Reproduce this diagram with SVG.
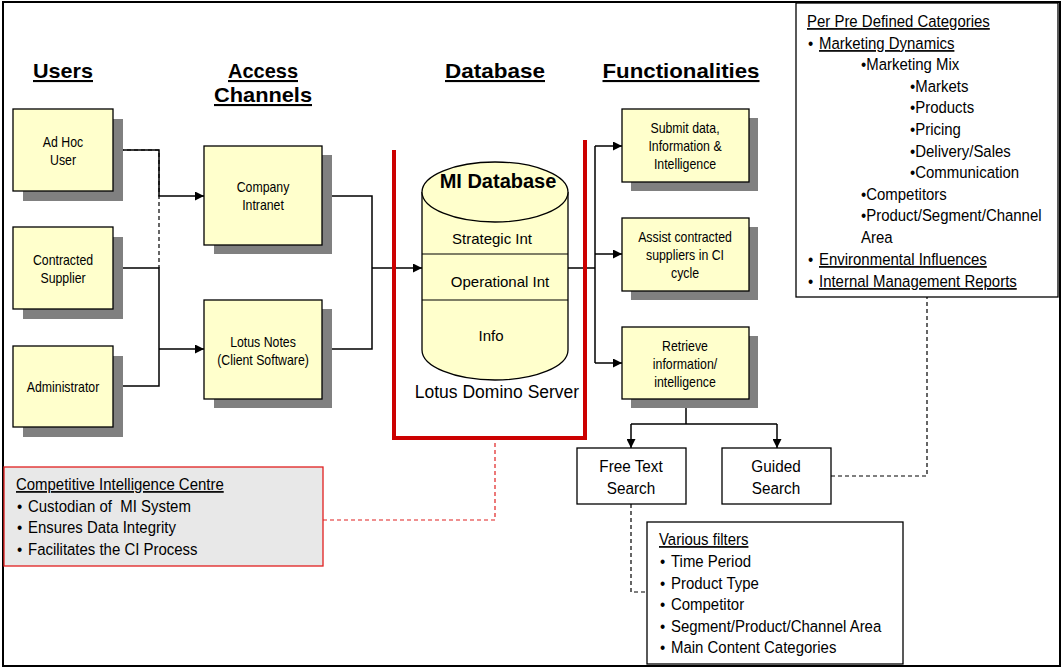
<svg xmlns="http://www.w3.org/2000/svg" width="1062" height="668" viewBox="0 0 1062 668">
<style>
.box{fill:#FFFFCC;stroke:#000;stroke-width:1.3}
.sh{fill:#808080}
.t{font-family:"Liberation Sans",Arial,sans-serif;fill:#000}
.n{font-size:14px;text-anchor:middle}
.hd{font-family:"Liberation Sans",Arial,sans-serif;font-weight:bold;font-size:21px;text-anchor:middle;text-decoration:underline}
.db{font-family:"Liberation Sans",Arial,sans-serif;fill:#000;text-anchor:middle}
.l{font-size:17px}
.u{text-decoration:underline}
.c{fill:none;stroke:#000;stroke-width:1.5}
.d{fill:none;stroke:#000;stroke-width:1.2;stroke-dasharray:4,3}
.rd{fill:none;stroke:#E02020;stroke-width:1.2;stroke-dasharray:4,3}
.wb{fill:#fff;stroke:#000;stroke-width:1.3}
</style>
<defs>
<marker id="ah" viewBox="0 0 10 10" refX="10" refY="5" markerWidth="10" markerHeight="9" markerUnits="userSpaceOnUse" orient="auto">
<path d="M0,0 L10,5 L0,10 Z" fill="#000"/>
</marker>
</defs>
<rect x="3" y="2" width="1057" height="664" fill="#fff" stroke="#000" stroke-width="2"/>

<g id="headers">
<text class="hd" x="63" y="78" textLength="60" lengthAdjust="spacingAndGlyphs">Users</text>
<text class="hd" x="263" y="78" textLength="70" lengthAdjust="spacingAndGlyphs">Access</text>
<text class="hd" x="263" y="102" textLength="98" lengthAdjust="spacingAndGlyphs">Channels</text>
<text class="hd" x="495" y="78" textLength="100" lengthAdjust="spacingAndGlyphs">Database</text>
<text class="hd" x="681" y="78" textLength="157" lengthAdjust="spacingAndGlyphs">Functionalities</text>
</g>

<g id="connectors">
<path class="c" d="M113,150 H159 V196 H204" marker-end="url(#ah)"/>
<path class="d" d="M113,150 H159 V268"/>
<path class="c" d="M113,268 H159 V386 H113"/>
<path class="c" d="M159,349 H204" marker-end="url(#ah)"/>
<path class="c" d="M322,196 H372 V349 H322"/>
<path class="c" d="M372,268 H422" marker-end="url(#ah)"/>
<path class="c" d="M568,268 H595"/>
<path class="c" d="M595,146 V363"/>
<path class="c" d="M595,146 H622" marker-end="url(#ah)"/>
<path class="c" d="M595,254 H622" marker-end="url(#ah)"/>
<path class="c" d="M595,363 H622" marker-end="url(#ah)"/>
<path class="c" d="M686,399 V424"/>
<path class="c" d="M631,424 H777"/>
<path class="c" d="M631,424 V448" marker-end="url(#ah)"/>
<path class="c" d="M777,424 V448" marker-end="url(#ah)"/>
<path class="d" d="M831,476 H927 V297"/>
<path class="d" d="M631,504 V592 H647"/>
<path class="rd" d="M323,520 H495 V440"/>
</g>

<g id="adhoc">
<rect class="sh" x="23" y="119" width="100" height="82"/>
<rect class="box" x="13" y="109" width="100" height="82"/>
<text class="t n" transform="translate(63,147) scale(0.88,1)">Ad Hoc</text>
<text class="t n" transform="translate(63,165) scale(0.88,1)">User</text>
</g>
<g id="contracted">
<rect class="sh" x="23" y="237" width="100" height="82"/>
<rect class="box" x="13" y="227" width="100" height="82"/>
<text class="t n" transform="translate(63,265) scale(0.88,1)">Contracted</text>
<text class="t n" transform="translate(63,283) scale(0.88,1)">Supplier</text>
</g>
<g id="administrator">
<rect class="sh" x="23" y="356" width="100" height="81"/>
<rect class="box" x="13" y="346" width="100" height="81"/>
<text class="t n" transform="translate(63,392) scale(0.88,1)">Administrator</text>
</g>
<g id="intranet">
<rect class="sh" x="214" y="155" width="118" height="99"/>
<rect class="box" x="204" y="146" width="118" height="99"/>
<text class="t n" transform="translate(263,192) scale(0.88,1)">Company</text>
<text class="t n" transform="translate(263,210) scale(0.88,1)">Intranet</text>
</g>
<g id="lotusnotes">
<rect class="sh" x="214" y="309" width="118" height="99"/>
<rect class="box" x="204" y="300" width="118" height="99"/>
<text class="t n" transform="translate(263,347) scale(0.88,1)">Lotus Notes</text>
<text class="t n" transform="translate(263,365) scale(0.88,1)">(Client Software)</text>
</g>

<g id="database">
<path d="M394,150 V438 H585 V140" fill="none" stroke="#CC0000" stroke-width="4"/>
<path class="box" d="M422,192 V350 A73,30 0 0 0 568,350 V192"/>
<ellipse class="box" cx="495" cy="192" rx="73" ry="30"/>
<line x1="422" y1="254" x2="568" y2="254" stroke="#000" stroke-width="1.2"/>
<line x1="422" y1="300" x2="568" y2="300" stroke="#000" stroke-width="1.2"/>
<text class="db" x="498" y="188" font-size="20" font-weight="bold">MI Database</text>
<text class="db" x="492" y="244" font-size="15">Strategic Int</text>
<text class="db" x="500" y="287" font-size="15">Operational Int</text>
<text class="db" x="491" y="341" font-size="15">Info</text>
<text class="db" x="497" y="398" font-size="17.5">Lotus Domino Server</text>
</g>

<g id="submit">
<rect class="sh" x="631" y="118" width="127" height="73"/>
<rect class="box" x="622" y="109" width="127" height="73"/>
<text class="t n" transform="translate(685,133) scale(0.88,1)">Submit data,</text>
<text class="t n" transform="translate(685,151) scale(0.88,1)">Information &amp;</text>
<text class="t n" transform="translate(685,169) scale(0.88,1)">Intelligence</text>
</g>
<g id="assist">
<rect class="sh" x="631" y="227" width="127" height="73"/>
<rect class="box" x="622" y="218" width="127" height="73"/>
<text class="t n" transform="translate(685,242) scale(0.88,1)">Assist contracted</text>
<text class="t n" transform="translate(685,260) scale(0.88,1)">suppliers in CI</text>
<text class="t n" transform="translate(685,278) scale(0.88,1)">cycle</text>
</g>
<g id="retrieve">
<rect class="sh" x="631" y="336" width="127" height="72"/>
<rect class="box" x="622" y="327" width="127" height="72"/>
<text class="t n" transform="translate(685,351) scale(0.88,1)">Retrieve</text>
<text class="t n" transform="translate(685,369) scale(0.88,1)">information/</text>
<text class="t n" transform="translate(685,387) scale(0.88,1)">intelligence</text>
</g>

<g id="freetext">
<rect class="wb" x="577" y="448" width="109" height="56"/>
<text class="t l" text-anchor="middle" transform="translate(631,472) scale(0.9,1)">Free Text</text>
<text class="t l" text-anchor="middle" transform="translate(631,494) scale(0.9,1)">Search</text>
</g>
<g id="guided">
<rect class="wb" x="722" y="448" width="109" height="56"/>
<text class="t l" text-anchor="middle" transform="translate(776,472) scale(0.9,1)">Guided</text>
<text class="t l" text-anchor="middle" transform="translate(776,494) scale(0.9,1)">Search</text>
</g>

<g id="categories">
<rect class="wb" x="796" y="3" width="262" height="294" stroke-width="1.6"/>
<text class="t l u" transform="translate(807,27) scale(0.88,1)">Per Pre Defined Categories</text>
<text class="t l" transform="translate(808,49) scale(0.88,1)">•</text>
<text class="t l u" transform="translate(819,49) scale(0.88,1)">Marketing Dynamics</text>
<text class="t l" transform="translate(861,70) scale(0.88,1)">•Marketing Mix</text>
<text class="t l" transform="translate(910,92) scale(0.88,1)">•Markets</text>
<text class="t l" transform="translate(910,113) scale(0.88,1)">•Products</text>
<text class="t l" transform="translate(910,135) scale(0.88,1)">•Pricing</text>
<text class="t l" transform="translate(910,157) scale(0.88,1)">•Delivery/Sales</text>
<text class="t l" transform="translate(910,178) scale(0.88,1)">•Communication</text>
<text class="t l" transform="translate(861,200) scale(0.88,1)">•Competitors</text>
<text class="t l" transform="translate(861,221) scale(0.88,1)">•Product/Segment/Channel</text>
<text class="t l" transform="translate(861,243) scale(0.88,1)">Area</text>
<text class="t l" transform="translate(808,265) scale(0.88,1)">•</text>
<text class="t l u" transform="translate(819,265) scale(0.88,1)">Environmental Influences</text>
<text class="t l" transform="translate(808,287) scale(0.88,1)">•</text>
<text class="t l u" transform="translate(819,287) scale(0.88,1)">Internal Management Reports</text>
</g>

<g id="filters">
<rect class="wb" x="647" y="522" width="256" height="142"/>
<text class="t l u" transform="translate(659,545) scale(0.88,1)">Various filters</text>
<text class="t l" transform="translate(660,567) scale(0.88,1)">•</text>
<text class="t l" transform="translate(671,567) scale(0.88,1)">Time Period</text>
<text class="t l" transform="translate(660,589) scale(0.88,1)">•</text>
<text class="t l" transform="translate(671,589) scale(0.88,1)">Product Type</text>
<text class="t l" transform="translate(660,610) scale(0.88,1)">•</text>
<text class="t l" transform="translate(671,610) scale(0.88,1)">Competitor</text>
<text class="t l" transform="translate(660,632) scale(0.88,1)">•</text>
<text class="t l" transform="translate(671,632) scale(0.88,1)">Segment/Product/Channel Area</text>
<text class="t l" transform="translate(660,653) scale(0.88,1)">•</text>
<text class="t l" transform="translate(671,653) scale(0.88,1)">Main Content Categories</text>
</g>

<g id="cic">
<rect x="4" y="467" width="319" height="99" fill="#E8E8E8" stroke="#E02020" stroke-width="1.3"/>
<text class="t l u" transform="translate(16,490) scale(0.88,1)">Competitive Intelligence Centre</text>
<text class="t l" transform="translate(17,512) scale(0.88,1)">•</text>
<text class="t l" transform="translate(28,512) scale(0.88,1)" xml:space="preserve">Custodian of  MI System</text>
<text class="t l" transform="translate(17,533) scale(0.88,1)">•</text>
<text class="t l" transform="translate(28,533) scale(0.88,1)">Ensures Data Integrity</text>
<text class="t l" transform="translate(17,555) scale(0.88,1)">•</text>
<text class="t l" transform="translate(28,555) scale(0.88,1)">Facilitates the CI Process</text>
</g>
</svg>
